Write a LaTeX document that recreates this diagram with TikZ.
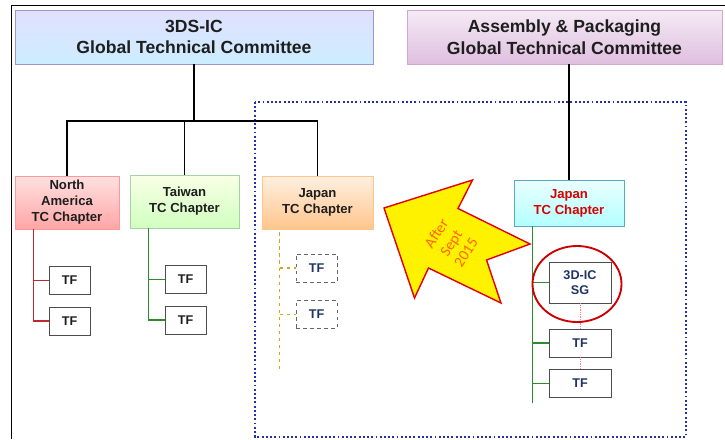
\documentclass[tikz,border=0pt]{standalone}
\usepackage{fontspec}
\setmainfont{Liberation Sans}
\newfontfamily\notefont{Carlito}
\newcommand\pxu{0.03cm}

\definecolor{ink}{HTML}{1E1E1E}
\definecolor{navy}{HTML}{1F3462}
\definecolor{redline}{HTML}{C0282D}
\definecolor{greenline}{HTML}{2E8B2E}
\definecolor{goldline}{HTML}{D6A520}
\definecolor{blueframe}{HTML}{2430A8}

\begin{document}
\begin{tikzpicture}[x=\pxu, y=-\pxu,
gtcbox/.style = {% global committees
    draw, line width=0.6pt, inner sep=0pt, align=center, text=ink,
    minimum height=54*\pxu, font=\fontsize{15}{18.5}\selectfont\bfseries,
            },
chapbox/.style = {% TC chapters
    draw, line width=0.6pt, inner sep=0pt, align=center, text=ink,
    minimum height=53*\pxu, font=\fontsize{11.2}{13.6}\selectfont\bfseries,
            },
tfbox/.style = {% task forces
    draw=black!70, line width=0.6pt, fill=white, inner sep=0pt, text=ink,
    minimum width=41*\pxu, minimum height=28*\pxu,
    font=\fontsize{10.8}{13}\selectfont\bfseries,
            },
trunk/.style = {line width=1.7pt, draw=black},
twig/.style = {line width=1.1pt},
                        ]
\useasboundingbox (0,0) rectangle (725,439);

% frame and area of the move
\draw[line width=0.6pt] (725,5) -- (11,5) -- (11,439);
\draw[blueframe, line width=1.6pt, dotted] (255,102) rectangle (686,437);

% committees
\node[gtcbox, minimum width=358*\pxu, draw=blue!35!gray!60,
      top color=blue!12, bottom color=blue!35!cyan!20!white]
      (gtc) at (194,37) {3DS-IC\\Global Technical Committee};
\node[gtcbox, minimum width=315*\pxu, draw=violet!35,
      top color=violet!8, bottom color=violet!25]
      (apgtc) at (564.5,37) {Assembly \& Packaging\\Global Technical Committee};

% chapters
\node[chapbox, minimum width=104*\pxu, draw=red!40,
      top color=red!12, bottom color=red!35] (na) at (67,202.5)
      {North\\America\\TC Chapter};
\node[chapbox, minimum width=109*\pxu, draw=green!50!black!35,
      top color=lime!10, bottom color=lime!35!green!25] (tw) at (184.5,201.5)
      {Taiwan\\TC Chapter};
\node[chapbox, minimum width=111*\pxu, draw=orange!45,
      top color=orange!12, bottom color=orange!45] (jpo) at (317.5,202.5)
      {Japan\\TC Chapter};
\node[chapbox, minimum width=110*\pxu, minimum height=46*\pxu, draw=cyan!55!gray,
      top color=cyan!8, bottom color=cyan!30, text=red!85!black] (jpc) at (569,203)
      {Japan\\TC Chapter};

% tree under 3DS-IC
\draw[trunk] (gtc.south) -- ++(0,57) coordinate (hub);
\draw[trunk] (na.north) |- (hub) -| (jpo.north);
\draw[trunk] (tw.north) -- (tw.north |- hub);
\draw[trunk] (jpc.north) -- (jpc.north |- apgtc.south);

% task forces
\node[tfbox] (natf1) at (69.5,280.5) {TF};
\node[tfbox] (natf2) at (69.5,321) {TF};
\node[tfbox] (twtf1) at (185.5,279.5) {TF};
\node[tfbox] (twtf2) at (185.5,320) {TF};
\node[tfbox, dashed, draw=black!60, text=navy] (jptf1) at (316.5,268) {TF};
\node[tfbox, dashed, draw=black!60, text=navy] (jptf2) at (316.5,314.5) {TF};
\node[tfbox, text=navy, minimum width=62*\pxu, minimum height=41*\pxu,
      align=center] (sg) at (580,282.5) {3D-IC\\SG};
\node[tfbox, text=navy, minimum width=62*\pxu] (sgtf1) at (580,343) {TF};
\node[tfbox, text=navy, minimum width=62*\pxu] (sgtf2) at (580,383.5) {TF};

\path (na.south west) ++(19,0) coordinate (naroot);
\draw[twig, redline] (naroot) |- (natf2.west);
\draw[twig, redline] (naroot |- natf1.west) -- (natf1.west);

\path (tw.south west) ++(19,0) coordinate (twroot);
\draw[twig, greenline] (twroot) |- (twtf2.west);
\draw[twig, greenline] (twroot |- twtf1.west) -- (twtf1.west);

\path (jpo.south west) ++(18,3) coordinate (jporoot);
\draw[twig, goldline, dashed] (jporoot) -- ++(0,138);
\draw[twig, goldline, dashed] (jporoot |- jptf1.west) -- (jptf1.west);
\draw[twig, goldline, dashed] (jporoot |- jptf2.west) -- (jptf2.west);

\path (jpc.south west) ++(19,0) coordinate (jproot);
\draw[twig, greenline] (jproot) -- ++(0,177);
\foreach \t in {sg,sgtf1,sgtf2}
  \draw[twig, greenline] (jproot |- \t.west) -- (\t.west);
\draw[red!50, densely dotted, line width=0.5pt] (sg.south) -- (sgtf1.north);
\draw[red!50, densely dotted, line width=0.5pt] (sgtf1.south) -- (sgtf2.north);

% SG moves over
\draw[red!80!black, line width=1.6pt] (577,284) ellipse (44.5 and 38);
\draw[red!90!black, line width=1.2pt, fill=yellow, line join=miter]
  (384,208) -- (472.5,180) -- (458,208.5) -- (530,244) -- (486.5,260)
  -- (501,303) -- (428.5,268) -- (414.5,298) -- cycle;
\node[rotate=57, align=center, text=orange!80!red, inner sep=0pt,
      font=\notefont\fontsize{13}{15}\selectfont] (after) at (451,243)
  {After\\Sept\\2015};

\end{tikzpicture}
\end{document}
